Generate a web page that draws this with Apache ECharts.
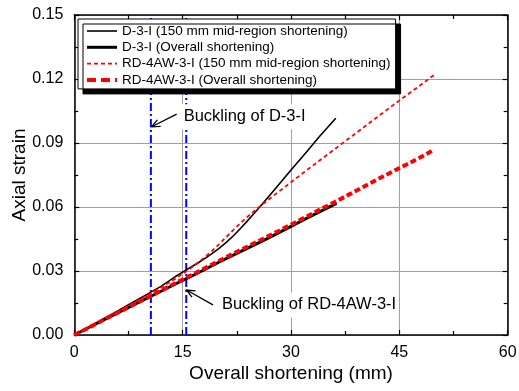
<!DOCTYPE html>
<html>
<head>
<meta charset="utf-8">
<script src="https://cdn.jsdelivr.net/npm/echarts@6/dist/echarts.min.js"></script>
<style>
  html, body { margin: 0; padding: 0; background: #fff; }
  #chart { width: 519px; height: 391px; }
</style>
</head>
<body>
<div id="chart"></div>
<script>
// Axis ranges and tick steps
const xTicks = [0, 15, 30, 45, 60];
const yTicks = [0, 0.03, 0.06, 0.09, 0.12, 0.15];

// Series names
const seriesNames = [
  'D-3-I (150 mm mid-region shortening)',
  'D-3-I (Overall shortening)',
  'RD-4AW-3-I (150 mm mid-region shortening)',
  'RD-4AW-3-I (Overall shortening)'
];

// D-3-I, strain from 150 mm mid-region shortening: [overall shortening (mm), axial strain]
const d3iMid = [
  [0, 0], [2, 0.0037], [4, 0.0075], [6, 0.0113], [8, 0.0151], [10, 0.0189],
  [12, 0.0228], [14, 0.0274], [15, 0.0295], [16, 0.0315], [17, 0.0335],
  [18, 0.0357], [19, 0.0380], [20, 0.0405], [21, 0.0433], [22, 0.0464],
  [23, 0.0499], [24, 0.0536], [25, 0.0574], [26, 0.0613], [28, 0.0693],
  [30, 0.0773], [32, 0.0852], [34, 0.0933], [36.2, 0.1016]
];

// D-3-I, strain from overall shortening
const d3iOverall = [
  [0, 0], [2, 0.0035], [4, 0.0069], [6, 0.0103], [8, 0.0137], [10, 0.0171],
  [12, 0.0205], [14, 0.0239], [16, 0.0272], [18, 0.0306], [20, 0.0341],
  [22, 0.0374], [24, 0.0407], [26, 0.0440], [28, 0.0474], [30, 0.0509],
  [32, 0.0544], [34, 0.0578], [36.3, 0.0617]
];

// RD-4AW-3-I, strain from 150 mm mid-region shortening
const rdMid = [
  [0, 0], [2, 0.0036], [4, 0.0073], [6, 0.0110], [8, 0.0147], [10, 0.0184],
  [12, 0.0223], [14, 0.0264], [16, 0.0310], [18, 0.0363], [19, 0.0392],
  [20, 0.0424], [21, 0.0458], [22, 0.0492], [23, 0.0524], [24, 0.0555],
  [25, 0.0584], [26, 0.0611], [28, 0.0664], [30, 0.0716], [32, 0.0768],
  [34, 0.0819], [36, 0.0870], [38, 0.0921], [40, 0.0972], [42, 0.1023],
  [44, 0.1074], [46, 0.1124], [48, 0.1173], [49.8, 0.1219]
];

// RD-4AW-3-I, strain from overall shortening
const rdOverall = [
  [0, 0], [2, 0.0034], [4, 0.0070], [6, 0.0104], [8, 0.0139], [10, 0.0173],
  [12, 0.0208], [14, 0.0243], [16, 0.0277], [18, 0.0312], [20, 0.0347],
  [22, 0.0381], [24, 0.0415], [26, 0.0449], [28, 0.0483], [30, 0.0517],
  [32, 0.0552], [34, 0.0588], [36, 0.0622], [38, 0.0658], [40, 0.0694],
  [42, 0.0730], [44, 0.0765], [46, 0.0799], [48, 0.0834], [49.7, 0.0866]
];

// Shortening at which buckling occurred (mm): D-3-I, RD-4AW-3-I
const bucklingShortening = [10.6, 15.5];

// Annotation texts and their anchors in data space:
// [arrow tail x, tail y, arrow head x, head y, text x, text y]
const annotationTexts = ['Buckling of D-3-I', 'Buckling of RD-4AW-3-I'];
const annotationAnchors = [
  [14.17, 0.1035, 10.71, 0.0976, 14.86, 0.1023],
  [19.19, 0.0141, 15.55, 0.0211, 20.16, 0.0141]
];

const FONT = 'Arial, "Liberation Sans", sans-serif';
const xStep = xTicks[1] - xTicks[0];
const yStep = yTicks[1] - yTicks[0];

const chart = echarts.init(document.getElementById('chart'), null, { renderer: 'canvas' });

const axisCommon = {
  axisLine: { show: true, onZero: false, lineStyle: { color: '#000', width: 1.5 } },
  axisTick: { show: true, inside: true, length: 5, lineStyle: { color: '#000', width: 1.2 } },
  minorTick: { show: true, splitNumber: 2, length: 4, lineStyle: { color: '#000', width: 1.2 } },
  minorSplitLine: { show: false }
};

const lineStyles = [
  { color: '#000', width: 1.6, type: 'solid' },
  { color: '#000', width: 3, type: 'solid' },
  { color: '#ff0000', width: 1.8, type: [4, 3] },
  { color: '#ff0000', width: 4, type: [6, 3] }
];
const lineData = [d3iMid, d3iOverall, rdMid, rdOverall];

const dataSeries = seriesNames.map((name, i) => ({
  name: name,
  type: 'line',
  data: lineData[i],
  symbol: 'none',
  smooth: false,
  lineStyle: lineStyles[i],
  itemStyle: { color: lineStyles[i].color },
  z: 3 + i,
  silent: true
}));

const bucklingSeries = bucklingShortening.map((x, i) => ({
  name: 'buckling-' + i,
  type: 'line',
  data: [[x, yTicks[0]], [x, yTicks[yTicks.length - 1]]],
  symbol: 'none',
  lineStyle: { color: '#0000ff', width: 2, type: [8, 3, 2, 3] },
  z: 2,
  silent: true
}));

const annotationSeries = {
  type: 'custom',
  name: 'annotations',
  data: annotationAnchors,
  encode: { x: [0, 2, 4], y: [1, 3, 5] },
  clip: false,
  silent: true,
  z: 10,
  renderItem: function (params, api) {
    const tail = api.coord([api.value(0), api.value(1)]);
    const head = api.coord([api.value(2), api.value(3)]);
    const txt = api.coord([api.value(4), api.value(5)]);
    const ang = Math.atan2(tail[1] - head[1], tail[0] - head[0]);
    const len = 9, spread = 0.42;
    const p1 = [head[0] + len * Math.cos(ang + spread), head[1] + len * Math.sin(ang + spread)];
    const p2 = [head[0] + len * Math.cos(ang - spread), head[1] + len * Math.sin(ang - spread)];
    return {
      type: 'group',
      children: [
        {
          type: 'text',
          style: {
            text: annotationTexts[params.dataIndex],
            x: txt[0], y: txt[1],
            fill: '#000',
            font: '16.5px ' + FONT,
            align: 'left',
            verticalAlign: 'middle',
            backgroundColor: '#fff',
            padding: [4, 2, 4, 2]
          }
        },
        {
          type: 'line',
          shape: { x1: tail[0], y1: tail[1], x2: head[0], y2: head[1] },
          style: { stroke: '#000', lineWidth: 1.3 }
        },
        {
          type: 'polyline',
          shape: { points: [p1, head, p2] },
          style: { stroke: '#000', fill: null, lineWidth: 1.3 }
        }
      ]
    };
  }
};

const legendWidths = [1.6, 3, 1.8, 4];
const legendTypes = ['solid', 'solid', [4, 3], [9, 5]];

chart.setOption({
  animation: false,
  backgroundColor: '#fff',
  grid: {
    left: 74.3, right: 11.3, top: 15, bottom: 56,
    containLabel: false,
    outerBoundsMode: 'none'
  },
  legend: {
    orient: 'vertical',
    left: 78,
    top: 19,
    padding: [5, 5, 2, 7],
    itemGap: 2.3,
    itemWidth: 30,
    itemHeight: 14,
    backgroundColor: '#fff',
    borderColor: '#000',
    borderWidth: 1,
    shadowColor: '#000',
    shadowBlur: 0,
    shadowOffsetX: 5,
    shadowOffsetY: 5,
    selectedMode: false,
    itemStyle: { opacity: 0 },
    textStyle: { color: '#000', fontSize: 13.5, fontFamily: FONT },
    data: seriesNames.map((name, i) => ({
      name: name,
      lineStyle: { width: legendWidths[i], type: legendTypes[i] }
    }))
  },
  xAxis: [
    Object.assign({}, axisCommon, {
      type: 'value',
      position: 'bottom',
      min: xTicks[0], max: xTicks[xTicks.length - 1], interval: xStep,
      name: 'Overall shortening (mm)',
      nameLocation: 'middle',
      nameGap: 29,
      nameMoveOverlap: false,
      nameTextStyle: { color: '#000', fontSize: 19, fontFamily: FONT },
      axisLabel: { color: '#000', fontSize: 16, fontFamily: FONT, margin: 10 },
      splitLine: { show: true, lineStyle: { color: '#a0a0a0', width: 1 } }
    }),
    Object.assign({}, axisCommon, {
      type: 'value',
      position: 'top',
      min: xTicks[0], max: xTicks[xTicks.length - 1], interval: xStep,
      axisLabel: { show: false },
      splitLine: { show: false }
    })
  ],
  yAxis: [
    Object.assign({}, axisCommon, {
      type: 'value',
      position: 'left',
      min: yTicks[0], max: yTicks[yTicks.length - 1], interval: yStep,
      name: 'Axial strain',
      nameLocation: 'middle',
      nameGap: 45,
      nameMoveOverlap: false,
      nameTextStyle: { color: '#000', fontSize: 19, fontFamily: FONT },
      axisLabel: {
        color: '#000', fontSize: 16, fontFamily: FONT, margin: 11,
        formatter: v => v.toFixed(2)
      },
      splitLine: { show: true, lineStyle: { color: '#a0a0a0', width: 1 } }
    }),
    Object.assign({}, axisCommon, {
      type: 'value',
      position: 'right',
      min: yTicks[0], max: yTicks[yTicks.length - 1], interval: yStep,
      axisLabel: { show: false },
      splitLine: { show: false }
    })
  ],
  series: bucklingSeries.concat(dataSeries, [annotationSeries])
});
</script>
</body>
</html>
